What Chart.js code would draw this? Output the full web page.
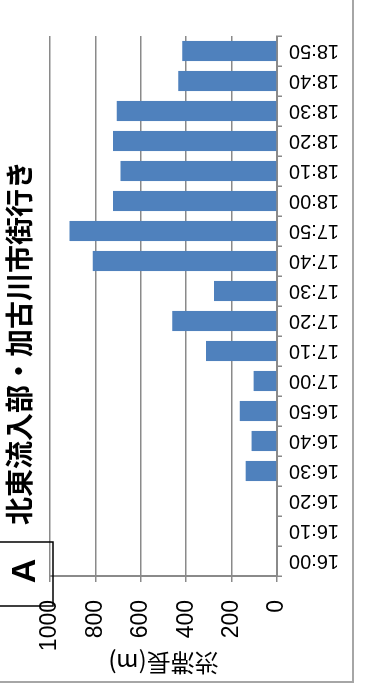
<!DOCTYPE html>
<html>
<head>
<meta charset="utf-8">
<script src="https://cdn.jsdelivr.net/npm/chart.js@4"></script>
<style>
  html, body { margin: 0; padding: 0; background: #fff; overflow: hidden; }
  /* chart is laid out as an upright column chart, then turned a quarter left */
  #wrap {
    position: absolute; left: 0; top: 0; width: 700px; height: 367px;
    transform-origin: 0 0; transform: translateY(700px) rotate(-90deg);
  }
</style>
</head>
<body>
<div id="wrap"><canvas id="c" width="700" height="367"></canvas></div>
<script>
// 10分ごとの渋滞長
const times = ['16:00','16:10','16:20','16:30','16:40','16:50','17:00','17:10','17:20',
               '17:30','17:40','17:50','18:00','18:10','18:20','18:30','18:40','18:50'];
const queueLength = [0, 0, 0, 138, 112, 164, 103, 313, 462, 278, 812, 914, 722, 689, 722, 706, 435, 417];
const valueTicks = [0, 200, 400, 600, 800, 1000];

const chartTitle = '北東流入部・加古川市街行き';
const axisTitle = '渋滞長(m)';
const panelLabel = 'A';

const gridGray = '#8a8a8a';

// 枠線・タイトル・「A」の箱
const decorations = {
  id: 'decorations',
  afterDraw(chart) {
    const ctx = chart.ctx;
    ctx.save();
    ctx.strokeStyle = '#a6a6a6';
    ctx.lineWidth = 2;
    ctx.strokeRect(18, -5, 700, 358);

    ctx.fillStyle = '#000';
    ctx.font = 'bold 28px "Noto Sans CJK JP"';
    ctx.textAlign = 'center';
    ctx.textBaseline = 'middle';
    ctx.fillText(chartTitle, 357, 19);

    ctx.strokeStyle = '#000';
    ctx.lineWidth = 1.5;
    ctx.strokeRect(94, -5, 64, 58);
    ctx.font = 'bold 34px "Liberation Sans"';
    ctx.fillText(panelLabel, 129, 26);
    ctx.restore();
  }
};

new Chart(document.getElementById('c'), {
  type: 'bar',
  data: {
    labels: times,
    datasets: [{
      label: axisTitle,
      data: queueLength,
      backgroundColor: '#4f81bd',
      borderWidth: 0,
      barPercentage: 0.67,
      categoryPercentage: 1
    }]
  },
  options: {
    responsive: false,
    animation: false,
    devicePixelRatio: 1,
    layout: { padding: { top: 50, right: 36, left: 0, bottom: 0 } },
    plugins: {
      legend: { display: false },
      title: { display: false },
      tooltip: { enabled: false }
    },
    scales: {
      x: {
        afterFit: s => { s.height = 90; },
        grid: { drawOnChartArea: false, tickLength: 5, color: gridGray, lineWidth: 1.5 },
        border: { color: gridGray, width: 2 },
        ticks: {
          minRotation: 90, maxRotation: 90, padding: 7,
          color: '#000', font: { family: '"Liberation Sans"', size: 20 }
        }
      },
      y: {
        min: 0, max: 1000,
        afterFit: s => { s.width = 124; },
        afterBuildTicks: s => { s.ticks = valueTicks.map(v => ({ value: v })); },
        grid: { color: gridGray, lineWidth: 1.5, tickLength: 6 },
        border: { color: gridGray, width: 2 },
        ticks: {
          padding: 18, color: '#000', font: { family: '"Liberation Sans"', size: 23 },
          callback: v => String(v)
        },
        title: {
          display: true, text: axisTitle, color: '#000',
          padding: { top: 22, bottom: 0 },
          font: { family: '"Noto Sans CJK JP"', size: 24 }
        }
      }
    }
  },
  plugins: [decorations]
});
</script>
</body>
</html>
